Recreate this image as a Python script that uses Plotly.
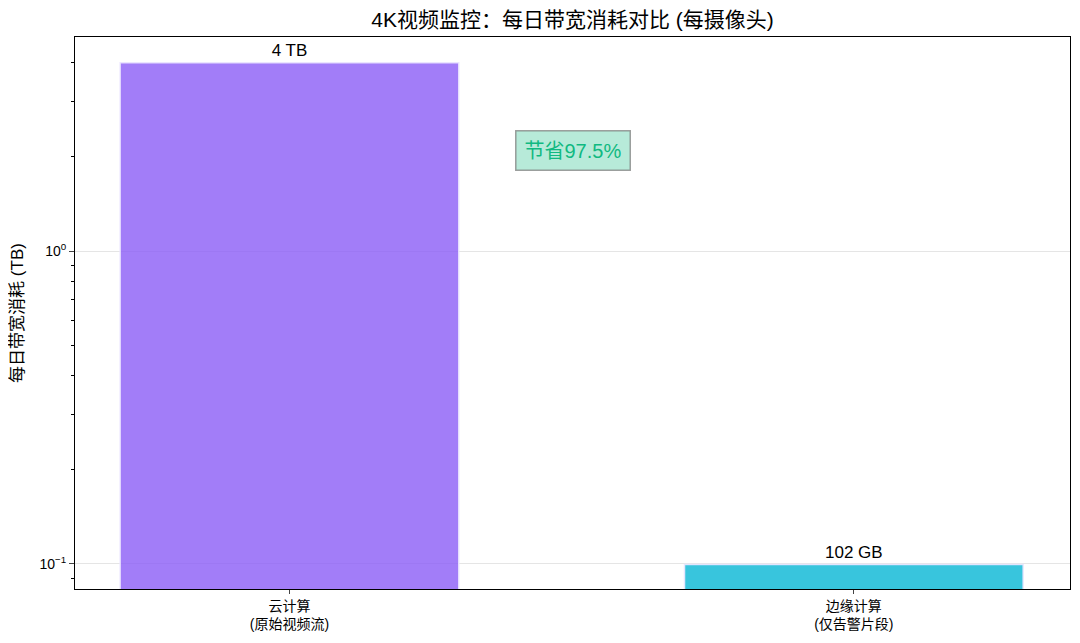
import plotly.graph_objects as go

categories = ["云计算<br>(原始视频流)", "边缘计算<br>(仅告警片段)"]
bandwidth_tb = [4.0, 102 / 1024]
bar_labels = ["4 TB", "102 GB"]
colors = ["rgba(139,92,246,0.8)", "rgba(6,182,212,0.8)"]
saving_text = "节省97.5%"
major_ticks = [0.1, 1]
major_labels = ["10<sup>−1</sup>", "10<sup>0</sup>"]
minor_ticks = [0.09, 0.2, 0.3, 0.4, 0.5, 0.6, 0.7, 0.8, 0.9, 2, 3, 4]

FONT = "Liberation Sans, Arial, Noto Sans CJK SC, sans-serif"
Y_RANGE = [-1.08, 0.684]

fig = go.Figure()
fig.add_trace(
    go.Bar(
        x=categories,
        y=bandwidth_tb,
        width=0.6,
        marker=dict(color=colors, line=dict(color="rgba(235,230,255,0.9)", width=1.5)),
        text=bar_labels,
        textposition="outside",
        textfont=dict(size=17, color="black"),
        cliponaxis=False,
        showlegend=False,
    )
)
# invisible trace so the minor-tick overlay axis gets drawn
fig.add_trace(
    go.Scatter(
        x=categories,
        y=bandwidth_tb,
        yaxis="y2",
        mode="markers",
        marker=dict(opacity=0),
        hoverinfo="skip",
        showlegend=False,
    )
)

fig.add_annotation(
    x=0.5,
    xref="paper",
    y=0.32,
    yref="y",
    text=saving_text,
    showarrow=False,
    font=dict(size=20, color="#10B981"),
    bgcolor="rgba(16,185,129,0.3)",
    bordercolor="rgba(120,120,120,0.7)",
    borderwidth=1.5,
    borderpad=8,
)

# page body has an 8px margin, so size the figure to sit inside the window
fig.update_layout(
    width=1064,
    height=627,
    margin=dict(l=67, r=2, t=29, b=46),
    paper_bgcolor="white",
    plot_bgcolor="white",
    font=dict(family=FONT, size=13, color="black"),
    title=dict(
        text="4K视频监控：每日带宽消耗对比 (每摄像头)",
        x=(67 + 1062) / 2 / 1064,
        xanchor="center",
        y=1 - 12 / 627,
        yanchor="middle",
        font=dict(size=21, color="black"),
    ),
    bargap=0.4,
)

fig.update_xaxes(
    range=[-0.38, 1.383],
    showline=True,
    linecolor="black",
    linewidth=1,
    mirror=True,
    ticks="outside",
    ticklen=4,
    tickfont=dict(size=14),
    showgrid=False,
)

fig.update_layout(
    yaxis=dict(
        type="log",
        range=Y_RANGE,
        tickmode="array",
        tickvals=major_ticks,
        ticktext=major_labels,
        tickfont=dict(size=14),
        ticks="outside",
        ticklen=5,
        showline=True,
        linecolor="black",
        linewidth=1,
        mirror=True,
        showgrid=True,
        gridcolor="rgba(0,0,0,0.1)",
        zeroline=False,
        title=dict(text="每日带宽消耗 (TB)", font=dict(size=17), standoff=12),
    ),
    yaxis2=dict(
        type="log",
        range=Y_RANGE,
        overlaying="y",
        side="left",
        tickmode="array",
        tickvals=minor_ticks,
        ticktext=[""] * len(minor_ticks),
        ticks="outside",
        ticklen=3,
        tickcolor="black",
        showgrid=False,
        showline=False,
        zeroline=False,
    ),
)

fig.write_html("out.html")
